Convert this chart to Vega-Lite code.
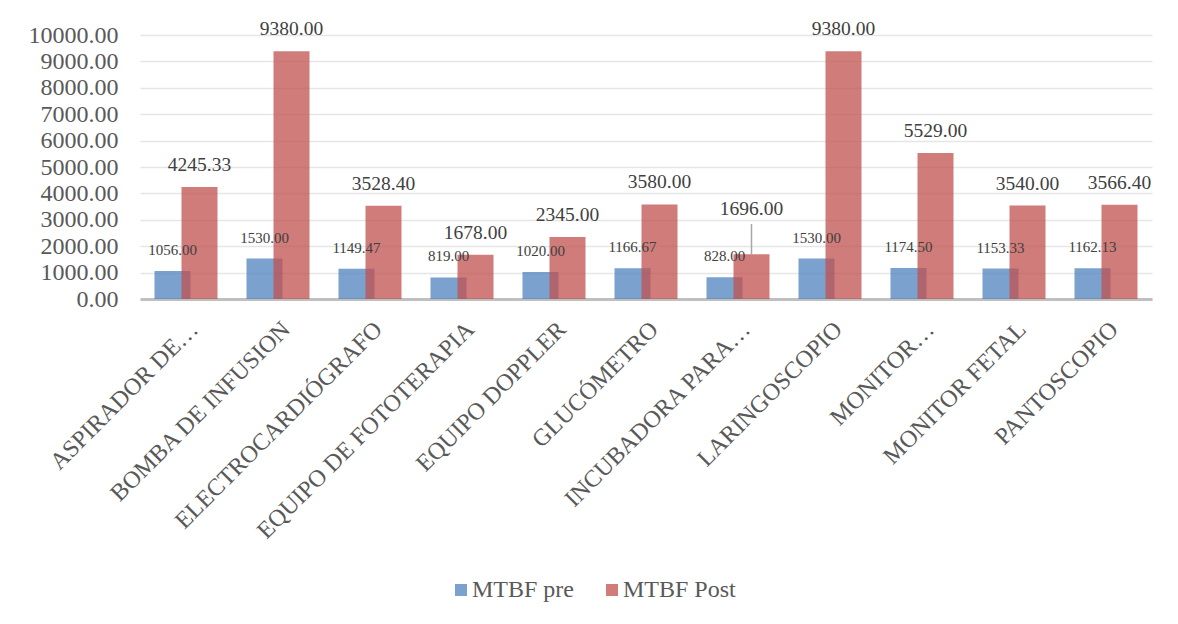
{
  "$schema": "https://vega.github.io/schema/vega-lite/v6.json",
  "width": 1012,
  "height": 264,
  "autosize": {"type": "none"},
  "padding": {"left": 140, "top": 35, "right": 26, "bottom": 325},
  "background": "white",
  "config": {
    "view": {"stroke": null},
    "font": "Liberation Serif",
    "text": {"font": "Liberation Serif"},
    "axis": {"labelFont": "Liberation Serif", "labelColor": "#595959"},
    "legend": {"labelFont": "Liberation Serif"}
  },
  "data": {
    "values": [
      {"equipo": "ASPIRADOR DE…", "serie": "MTBF pre", "valor": 1056.00},
      {"equipo": "ASPIRADOR DE…", "serie": "MTBF Post", "valor": 4245.33},
      {"equipo": "BOMBA DE INFUSION", "serie": "MTBF pre", "valor": 1530.00},
      {"equipo": "BOMBA DE INFUSION", "serie": "MTBF Post", "valor": 9380.00},
      {"equipo": "ELECTROCARDIÓGRAFO", "serie": "MTBF pre", "valor": 1149.47},
      {"equipo": "ELECTROCARDIÓGRAFO", "serie": "MTBF Post", "valor": 3528.40},
      {"equipo": "EQUIPO DE FOTOTERAPIA", "serie": "MTBF pre", "valor": 819.00},
      {"equipo": "EQUIPO DE FOTOTERAPIA", "serie": "MTBF Post", "valor": 1678.00},
      {"equipo": "EQUIPO DOPPLER", "serie": "MTBF pre", "valor": 1020.00},
      {"equipo": "EQUIPO DOPPLER", "serie": "MTBF Post", "valor": 2345.00},
      {"equipo": "GLUCÓMETRO", "serie": "MTBF pre", "valor": 1166.67},
      {"equipo": "GLUCÓMETRO", "serie": "MTBF Post", "valor": 3580.00},
      {"equipo": "INCUBADORA PARA…", "serie": "MTBF pre", "valor": 828.00},
      {"equipo": "INCUBADORA PARA…", "serie": "MTBF Post", "valor": 1696.00},
      {"equipo": "LARINGOSCOPIO", "serie": "MTBF pre", "valor": 1530.00},
      {"equipo": "LARINGOSCOPIO", "serie": "MTBF Post", "valor": 9380.00},
      {"equipo": "MONITOR…", "serie": "MTBF pre", "valor": 1174.50},
      {"equipo": "MONITOR…", "serie": "MTBF Post", "valor": 5529.00},
      {"equipo": "MONITOR FETAL", "serie": "MTBF pre", "valor": 1153.33},
      {"equipo": "MONITOR FETAL", "serie": "MTBF Post", "valor": 3540.00},
      {"equipo": "PANTOSCOPIO", "serie": "MTBF pre", "valor": 1162.13},
      {"equipo": "PANTOSCOPIO", "serie": "MTBF Post", "valor": 3566.40}
    ]
  },
  "encoding": {
    "x": {
      "field": "equipo",
      "type": "nominal",
      "sort": null,
      "scale": {"paddingInner": 0, "paddingOuter": 0},
      "axis": {
        "title": null,
        "labelAngle": -45,
        "labelAlign": "right",
        "labelBaseline": "top",
        "labelFontSize": 24,
        "labelPadding": 18,
        "ticks": false,
        "domainColor": "#bfbfbf",
        "domainWidth": 3,
        "grid": false,
        "labelLimit": 400
      }
    },
    "y": {
      "field": "valor",
      "type": "quantitative",
      "scale": {"domain": [0, 10000], "nice": false},
      "axis": {
        "title": null,
        "values": [0, 1000, 2000, 3000, 4000, 5000, 6000, 7000, 8000, 9000, 10000],
        "format": ".2f",
        "labelFontSize": 24,
        "labelPadding": 22,
        "ticks": false,
        "domain": false,
        "gridColor": "#e6e6e6",
        "gridWidth": 1.5
      }
    }
  },
  "layer": [
    {
      "transform": [{"filter": "datum.serie === 'MTBF pre'"}],
      "mark": {"type": "bar", "width": 36, "xOffset": -13.5, "opacity": 0.75},
      "encoding": {
        "color": {
          "field": "serie",
          "type": "nominal",
          "scale": {"domain": ["MTBF pre", "MTBF Post"], "range": ["#4F81BD", "#C0504D"]},
          "legend": {
            "title": null,
            "orient": "none",
            "direction": "horizontal",
            "legendX": 309,
            "legendY": 543,
            "padding": 0,
            "symbolType": "square",
            "symbolSize": 144,
            "symbolOpacity": 0.75,
            "symbolStrokeWidth": 0,
            "labelFontSize": 24,
            "labelColor": "#595959",
            "labelOffset": -1,
            "columnPadding": 26
          }
        }
      }
    },
    {
      "transform": [{"filter": "datum.serie === 'MTBF Post'"}],
      "mark": {"type": "bar", "width": 36, "xOffset": 13.5, "opacity": 0.75},
      "encoding": {
        "color": {"field": "serie", "type": "nominal"}
      }
    },
    {
      "transform": [{"filter": "datum.serie === 'MTBF pre'"}],
      "mark": {"type": "text", "font": "Liberation Serif", "xOffset": -13.5, "dy": -16, "baseline": "alphabetic", "fontSize": 15, "color": "#404040"},
      "encoding": {"text": {"field": "valor", "type": "quantitative", "format": ".2f"}}
    },
    {
      "transform": [{"filter": "datum.serie === 'MTBF Post' && datum.equipo !== 'INCUBADORA PARA…'"}],
      "mark": {"type": "text", "font": "Liberation Serif", "xOffset": 13.5, "dy": -16, "baseline": "alphabetic", "fontSize": 19.5, "color": "#404040"},
      "encoding": {"text": {"field": "valor", "type": "quantitative", "format": ".2f"}}
    },
    {
      "transform": [{"filter": "datum.serie === 'MTBF Post' && datum.equipo === 'INCUBADORA PARA…'"}],
      "mark": {"type": "text", "font": "Liberation Serif", "xOffset": 13.5, "dy": -39, "baseline": "alphabetic", "fontSize": 19.5, "color": "#404040"},
      "encoding": {"text": {"field": "valor", "type": "quantitative", "format": ".2f"}}
    },
    {
      "transform": [{"filter": "datum.serie === 'MTBF Post' && datum.equipo === 'INCUBADORA PARA…'"}],
      "mark": {"type": "rule", "xOffset": 13.5, "color": "#a6a6a6", "strokeWidth": 1.5},
      "encoding": {"y2": {"datum": 2840}}
    }
  ]
}
